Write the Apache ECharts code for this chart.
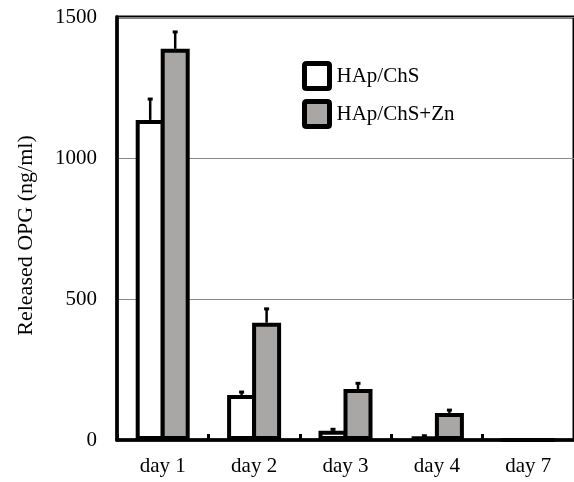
<!DOCTYPE html>
<html><head><meta charset="utf-8">
<script src="https://cdn.jsdelivr.net/npm/echarts@6/dist/echarts.min.js"></script>
<style>html,body{margin:0;padding:0;background:#fff}#c{width:574px;height:482px}</style>
</head><body><div id="c"></div>
<script>
var categories = ['day 1', 'day 2', 'day 3', 'day 4', 'day 7'];
var seriesNames = ['HAp/ChS', 'HAp/ChS+Zn'];
var valuesChS = [1135, 160, 33, 12, 0];
var errorsChS = [74, 10, 5, 3, 0];
var valuesZn = [1387, 416, 181, 96, 0];
var errorsZn = [60, 49, 20, 10, 0];
var yTicks = [0, 500, 1000, 1500];

var FONT = '"Liberation Serif", "Times New Roman", serif';
var BAR_W = 29;
var OVERLAP = 4;
var GRAY = '#a9a6a6';

function errSeries(vals, errs, side) {
  var data = vals.map(function (v, i) { return [i, v, v + errs[i]]; });
  return {
    type: 'custom',
    z: 1,
    silent: true,
    data: data,
    renderItem: function (params, api) {
      var i = api.value(0);
      var base = api.coord([i, api.value(1)]);
      var top = api.coord([i, api.value(2)]);
      var x = base[0] + side * (BAR_W - OVERLAP) / 2;
      if (api.value(2) - api.value(1) <= 0) return null;
      return {
        type: 'group',
        children: [
          { type: 'line', shape: { x1: x, y1: base[1], x2: x, y2: top[1] }, style: { stroke: '#000', lineWidth: 2.5 } },
          { type: 'line', shape: { x1: x - 2.5, y1: top[1], x2: x + 2.5, y2: top[1] }, style: { stroke: '#000', lineWidth: 3 } }
        ]
      };
    }
  };
}

var chart = echarts.init(document.getElementById('c'));
chart.setOption({
  animation: false,
  backgroundColor: '#fff',
  grid: { left: 117, right: -8, top: 17, bottom: 42, show: true, borderColor: '#000', borderWidth: 3, containLabel: false },
  legend: {
    orient: 'vertical',
    left: 297,
    top: 56,
    itemWidth: 25,
    itemHeight: 25,
    itemGap: 8,
    icon: 'path://M2,0 L22,0 Q24,0 24,2 L24,22 Q24,24 22,24 L2,24 Q0,24 0,22 L0,2 Q0,0 2,0 Z',
    data: seriesNames,
    textStyle: { fontFamily: FONT, fontSize: 21, lineHeight: 25, color: '#000', padding: [0, 0, 0, 2] },
    itemStyle: { borderColor: '#000', borderWidth: 5 }
  },
  xAxis: {
    type: 'category',
    data: categories,
    axisLine: { lineStyle: { color: '#000', width: 3.5 } },
    axisTick: { show: true, inside: true, length: 6, lineStyle: { color: '#000', width: 3 } },
    axisLabel: { fontFamily: FONT, fontSize: 21, color: '#000', margin: 16 }
  },
  yAxis: {
    type: 'value',
    min: yTicks[0],
    max: yTicks[yTicks.length - 1],
    interval: 500,
    name: 'Released OPG (ng/ml)',
    nameLocation: 'middle',
    nameGap: 80,
    nameTextStyle: { fontFamily: FONT, fontSize: 22, color: '#000', padding: [0, 14, 0, 0] },
    axisLine: { show: true, lineStyle: { color: '#000', width: 3.5 } },
    axisTick: { show: false },
    axisLabel: { fontFamily: FONT, fontSize: 21, color: '#000', margin: 20, formatter: function (v) { return String(v); } },
    splitLine: { show: true, lineStyle: { color: '#888', width: 1 } }
  },
  series: [
    { name: seriesNames[0], type: 'bar', data: valuesChS, barWidth: BAR_W, barGap: (-OVERLAP / BAR_W * 100) + '%', z: 2,
      itemStyle: { color: '#fff', borderColor: '#000', borderWidth: 4 } },
    { name: seriesNames[1], type: 'bar', data: valuesZn, barWidth: BAR_W, barGap: (-OVERLAP / BAR_W * 100) + '%', z: 3,
      itemStyle: { color: GRAY, borderColor: '#000', borderWidth: 4 } },
    errSeries(valuesChS, errorsChS, -1),
    errSeries(valuesZn, errorsZn, 1)
  ]
});
</script></body></html>
